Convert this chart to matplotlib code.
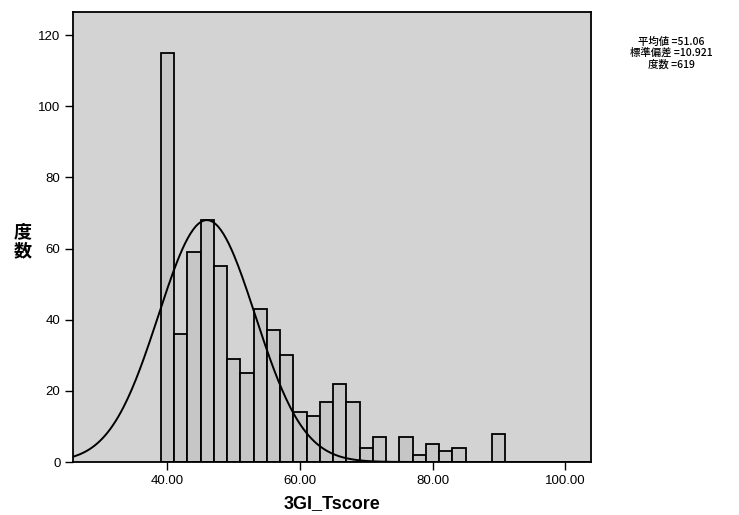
import numpy as np
import matplotlib.pyplot as plt

plt.rcParams['font.family'] = ['Liberation Sans', 'Noto Sans CJK JP', 'DejaVu Sans']

# histogram counts, bins centred on 40, 42, ... 90
bin_centers = np.arange(40, 92, 2)
bin_width = 2.0
counts = [115, 36, 59, 68, 55, 29, 25, 43, 37, 30, 14, 13, 17, 22, 17,
          4, 7, 0, 7, 2, 5, 3, 4, 0, 0, 8]

# normal curve as drawn
curve_mean = 45.95
curve_sd = 7.3
curve_peak = 68.0

x_ticks = [40, 60, 80, 100]
x_ticklabels = ['40.00', '60.00', '80.00', '100.00']
y_ticks = [0, 20, 40, 60, 80, 100, 120]

stats_text = '平均値 =51.06\n標準偏差 =10.921\n度数 =619'

fig = plt.figure(figsize=(7.39, 5.15), dpi=100)
ax = fig.add_axes([0.0988, 0.1029, 0.7009, 0.8738])
ax.set_facecolor('#d3d3d3')

for cx, c in zip(bin_centers, counts):
    if c > 0:
        ax.bar(cx, c, width=bin_width, color='#c6c6c6',
               edgecolor='black', linewidth=1.3)

xs = np.linspace(25.0, 105.0, 400)
ys = curve_peak * np.exp(-0.5 * ((xs - curve_mean) / curve_sd) ** 2)
ax.plot(xs, ys, color='black', linewidth=1.4)

ax.set_xlim(25.76, 103.9)
ax.set_ylim(0, 126.5)
ax.set_xticks(x_ticks)
ax.set_xticklabels(x_ticklabels)
ax.set_yticks(y_ticks)
ax.tick_params(axis='both', direction='out', length=6, width=1, labelsize=9.5, pad=3)
for s in ax.spines.values():
    s.set_linewidth(1.3)

ax.set_xlabel('3GI_Tscore', fontsize=13, fontweight='bold', labelpad=6)
fig.text(0.031, 0.532, '度\n数', fontsize=13, fontweight='bold',
         family=['Noto Sans CJK JP'], ha='center', va='center', linespacing=1.0)
fig.text(0.908, 0.897, stats_text, fontsize=7.5, ha='center', va='center',
         family=['Noto Sans CJK JP'], fontweight='medium', linespacing=1.15)

fig.savefig('out.png', dpi=100)
